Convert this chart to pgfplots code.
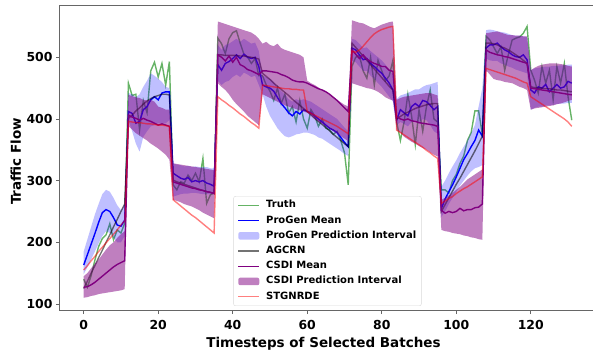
\documentclass[border=0pt]{standalone}
\usepackage{pgfplots}
\pgfplotsset{compat=1.18}
\usepackage{pgfplotstable}
\usepgfplotslibrary{fillbetween}
\usepackage{fontspec}
\setmainfont{DejaVu Sans}

\definecolor{cgreen}{RGB}{0,128,0}
\definecolor{cpurple}{RGB}{128,0,128}

\pgfplotstableread{
x tr pm pu pl ag cm cu cl st
0 140 163 185 148 125 127 145 110 155
1 127 180 205 160 137 128 150 111 162
2 146 197 225 172 150 131 158 113 170
3 171 214 245 185 162 135 165 114 177
4 193 232 262 198 175 140 172 116 185
5 206 248 278 210 187 145 180 117 192
6 212 253 285 218 200 150 188 118 199
7 230 250 282 215 212 155 195 119 206
8 204 240 272 208 225 160 200 120 213
9 220 228 260 200 237 164 207 121 220
10 215 226 252 200 250 167 213 122 228
11 231 236 262 210 262 170 218 124 235
12 458 412 442 398 401 406 439 388 396
13 438 409 440 380 406 403 437 383 395
14 440 393 435 360 413 401 435 377 394
15 382 396 440 347 418 398 434 373 394
16 430 415 452 371 424 401 431 369 393
17 410 420 462 380 429 398 430 365 392
18 478 431 474 388 433 396 431 360 392
19 492 436 470 390 436 393 428 356 391
20 468 431 465 393 438 390 420 352 390
21 490 442 460 393 440 392 418 347 390
22 455 444 452 393 440 390 415 342 389
23 493 444 450 398 439 388 415 334 388
24 293 312 328 274 301 298 328 269 269
25 285 308 326 276 298 296 327 267 264
26 298 304 325 278 296 294 326 265 259
27 296 302 323 279 294 292 325 262 254
28 309 305 324 279 292 290 324 260 249
29 300 298 322 280 290 288 323 258 244
30 312 300 323 280 288 287 322 255 240
31 298 298 322 279 286 285 321 252 235
32 336 300 322 278 284 284 320 248 230
33 263 296 322 278 282 282 319 245 225
34 277 294 320 278 281 281 318 242 220
35 280 291 320 278 279 279 317 239 215
36 531 488 520 462 504 504 558 458 436
37 522 479 512 455 504 500 556 452 431
38 506 490 520 460 503 494 554 447 427
39 530 493 522 462 503 502 552 440 422
40 540 498 526 468 503 492 550 431 418
41 543 504 530 472 503 500 548 424 413
42 523 498 525 468 502 488 546 418 408
43 505 505 530 475 502 485 544 412 404
44 500 500 526 472 501 480 542 405 399
45 490 498 522 468 500 478 540 400 394
46 498 500 524 470 499 475 536 395 390
47 470 485 510 455 497 472 530 390 385
48 470 455 470 440 474 478 522 440 455
49 455 452 468 420 469 478 525 437 454
50 445 450 465 405 464 477 520 434 453
51 430 445 460 395 458 476 518 431 452
52 450 435 452 385 453 475 522 428 451
53 425 425 445 378 448 472 515 425 450
54 440 418 440 372 443 470 512 422 449
55 410 410 432 370 438 467 510 420 449
56 420 405 428 372 432 463 508 418 448
57 395 412 432 375 427 461 506 416 448
58 430 408 430 376 422 460 504 414 447
59 400 415 432 378 417 460 500 412 447
60 385 412 430 378 412 458 462 410 412
61 415 410 428 376 407 455 458 405 409
62 405 405 424 374 401 452 455 400 406
63 388 400 420 370 396 449 451 396 403
64 400 395 416 368 391 447 447 392 400
65 385 390 412 364 386 444 443 388 397
66 382 385 408 360 381 440 439 384 394
67 375 382 404 356 375 435 435 380 391
68 380 378 400 352 370 430 431 376 388
69 365 370 393 348 365 424 427 372 384
70 345 362 386 343 360 418 423 368 380
71 293 355 380 340 355 412 420 364 376
72 485 515 530 495 523 512 560 458 510
73 500 512 528 492 516 505 558 456 508
74 503 504 522 485 509 498 556 454 512
75 478 496 515 478 502 504 555 452 518
76 466 498 516 478 495 497 552 450 525
77 500 490 510 470 488 493 549 449 532
78 455 485 505 465 481 490 547 447 538
79 495 479 500 458 474 488 550 444 542
80 478 474 495 452 467 485 553 440 545
81 462 466 488 444 460 485 555 435 547
82 470 458 480 436 453 479 557 432 549
83 495 447 472 428 447 477 558 430 550
84 395 398 432 390 400 404 431 382 382
85 365 415 438 395 404 400 434 378 378
86 395 410 440 392 408 398 436 371 374
87 440 405 442 388 411 400 437 367 370
88 405 420 445 395 414 397 438 363 366
89 358 425 448 398 417 396 439 360 362
90 415 420 448 392 419 394 440 356 358
91 380 430 452 400 421 393 441 353 354
92 420 428 455 398 423 392 442 350 349
93 447 422 456 390 424 391 442 346 345
94 400 415 458 380 425 390 440 342 340
95 395 420 460 376 425 388 438 339 336
96 285 255 290 241 250 252 269 220 263
97 285 270 300 250 261 247 272 218 267
98 280 282 312 262 272 250 276 217 271
99 300 293 323 272 283 248 280 215 274
100 310 306 333 282 294 250 285 214 279
101 328 320 345 292 304 255 290 213 283
102 340 334 355 300 315 251 296 211 287
103 365 344 365 308 326 253 302 210 290
104 378 355 377 315 337 253 306 208 294
105 413 365 390 320 348 256 310 207 298
106 413 382 420 322 360 257 314 205 302
107 375 372 450 325 372 262 318 204 306
108 534 515 544 498 523 512 539 479 482
109 528 520 545 495 523 508 540 472 480
110 517 520 544 494 522 506 541 465 478
111 506 523 542 494 520 504 542 463 476
112 517 517 541 490 517 503 540 462 474
113 479 512 540 488 515 501 538 460 472
114 505 509 538 485 512 500 536 459 470
115 528 504 536 483 508 498 536 458 468
116 531 501 535 480 504 496 535 455 466
117 533 500 535 478 500 494 535 452 463
118 539 504 534 476 495 492 534 450 460
119 550 496 533 474 490 490 534 447 458
120 479 447 479 415 452 450 479 415 436
121 463 442 482 418 451 449 483 417 432
122 442 452 483 420 450 448 486 418 428
123 485 450 484 420 450 447 488 419 424
124 458 456 485 422 449 446 489 420 420
125 479 444 485 422 449 445 490 421 416
126 431 450 486 423 448 444 490 422 412
127 485 456 486 424 447 443 490 424 408
128 458 450 487 425 447 442 489 425 404
129 490 452 487 425 446 441 488 427 400
130 436 461 488 426 445 440 486 429 395
131 398 458 488 426 444 439 485 431 388
}\data

\begin{document}
\begin{tikzpicture}
\begin{axis}[
  at={(0,0)}, anchor=south west,
  scale only axis, width=533.7bp, height=305.4bp,
  xmin=-6.55, xmax=136.7, ymin=89, ymax=584.3,
  clip=false,
  axis line style={draw=none},
  tick pos=left, tick align=outside,
  major tick length=3.5bp,
  every tick/.style={black!60, line width=0.8bp},
  xtick={0,20,40,60,80,100,120},
  ytick={100,200,300,400,500},
  /pgf/number format/assume math mode=true,
  tick label style={font=\fontsize{12.4bp}{14bp}\selectfont\bfseries},
  xticklabel style={anchor=north, inner sep=0pt, yshift=-5.8bp},
  yticklabel style={anchor=east, inner sep=0pt, xshift=-3.1bp},
  xlabel={Timesteps of Selected Batches},
  ylabel={Traffic Flow},
  label style={font=\fontsize{13.5bp}{16bp}\selectfont\bfseries},
  xlabel style={at={(axis description cs:0.495,0)}, anchor=base, yshift=-37.1bp, inner sep=0pt},
  ylabel style={at={(axis description cs:-0.0712,0.4885)}, anchor=south, inner sep=0pt},
  legend cell align=left,
  legend style={at={(axis description cs:0.5025,0.0154)}, anchor=south,
    draw=black!15, rounded corners=2bp, fill=white, fill opacity=0.8, text opacity=1,
    font=\fontsize{10bp}{12bp}\selectfont\bfseries,
    inner xsep=4bp, inner ysep=3bp, row sep=2.9bp,
    nodes={inner sep=1.2bp, text height=7.5bp, text depth=2.4bp},
    /tikz/every odd column/.append style={column sep=5bp}},
  linel/.style={legend image code/.code={\draw[##1] (0bp,0bp) -- (21bp,0bp);}},
  areal/.style={legend image code/.code={\fill[##1] (0bp,-3.8bp) rectangle (21bp,3.8bp);}},
]
\addplot[cgreen, opacity=0.6, line width=1.4bp, linel] table[x=x,y=tr]{\data};
\addlegendentry{Truth}
\addplot[blue, line width=1.4bp, linel] table[x=x,y=pm]{\data};
\addlegendentry{ProGen Mean}
\addplot[draw=none, name path=pu, forget plot] table[x=x,y=pu]{\data};
\addplot[draw=none, name path=pl, forget plot] table[x=x,y=pl]{\data};
\addplot[fill=blue, fill opacity=0.25, draw=none, areal] fill between[of=pu and pl, on layer=main];
\addlegendentry{ProGen Prediction Interval}
\addplot[black, opacity=0.55, line width=1.4bp, linel] table[x=x,y=ag]{\data};
\addlegendentry{AGCRN}
\addplot[cpurple, line width=1.4bp, linel] table[x=x,y=cm]{\data};
\addlegendentry{CSDI Mean}
\addplot[draw=none, name path=cu, forget plot] table[x=x,y=cu]{\data};
\addplot[draw=none, name path=cl, forget plot] table[x=x,y=cl]{\data};
\addplot[fill=cpurple, fill opacity=0.5, draw=none, areal] fill between[of=cu and cl, on layer=main];
\addlegendentry{CSDI Prediction Interval}
\addplot[red, opacity=0.5, line width=1.4bp, linel] table[x=x,y=st]{\data};
\addlegendentry{STGNRDE}
\draw[black!60, line width=0.8bp] (rel axis cs:0,1) -- (rel axis cs:0,0) -- (rel axis cs:1,0);
\draw[black!60, line width=0.8bp] (rel axis cs:0,1) -- (rel axis cs:1,1);
\end{axis}
\pgfresetboundingbox
\path[use as bounding box] (-59.3bp,-41.3bp) rectangle (533.7bp,310.7bp);
\end{tikzpicture}
\end{document}
